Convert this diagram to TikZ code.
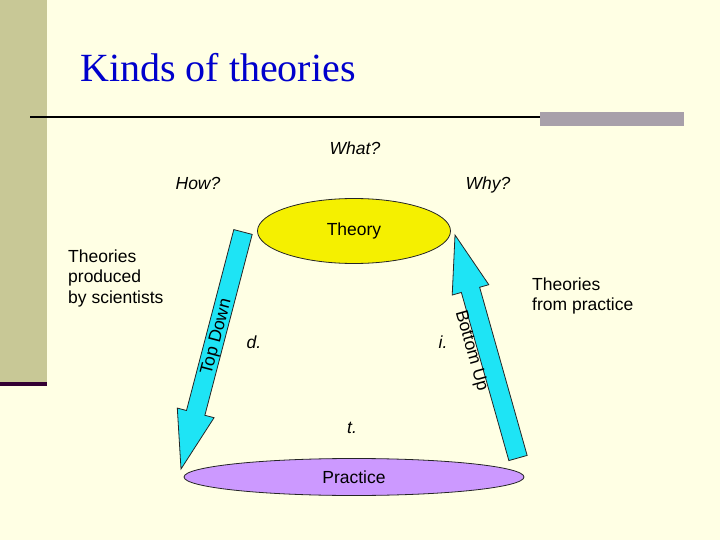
\documentclass[tikz,border=0pt]{standalone}
\usepackage{fontspec}
\setmainfont{Liberation Sans}
\newfontfamily\titlefont{Liberation Serif}
\usetikzlibrary{shapes.geometric}
\definecolor{bg}{RGB}{255,255,228}
\definecolor{side}{RGB}{200,200,150}
\definecolor{sidedark}{RGB}{51,0,51}
\definecolor{titleblue}{RGB}{0,0,204}
\definecolor{bargray}{RGB}{168,160,170}
\definecolor{arrowcyan}{RGB}{30,228,245}
\definecolor{theoryyellow}{RGB}{245,240,0}
\definecolor{practicepurple}{RGB}{204,153,255}
\tikzset{
  lbl/.style={inner sep=0pt, font=\fontsize{17.5}{20.5}\selectfont},
  ilbl/.style={lbl, font=\fontsize{17.5}{20.5}\selectfont\itshape},
  bigarrow/.style={fill=arrowcyan, draw=black!85, line width=0.8pt, line join=miter},
  oval/.style={ellipse, draw=black!85, line width=0.8pt, inner sep=0pt, font=\fontsize{17.5}{20.5}\selectfont}
}
\begin{document}
\begin{tikzpicture}[x=1pt,y=-1pt]
\useasboundingbox (0,0) rectangle (720,540);
\fill[bg] (0,0) rectangle (720,540);
\fill[side] (0,0) rectangle (47,382);
\fill[sidedark] (0,382) rectangle (47,386);
\fill[bargray] (540,112) rectangle (684,126);
\draw[line width=2pt] (30,117) -- (540,117);

\node[anchor=base west, inner sep=0pt, text=titleblue, font=\titlefont\fontsize{40}{44}\selectfont] (title) at (80,82) {Kinds of theories};

\node[ilbl, anchor=base] (what) at (355,155) {What?};
\node[ilbl, anchor=base] (how) at (198,190) {How?};
\node[ilbl, anchor=base] (why) at (488,190) {Why?};

\node[oval, fill=theoryyellow, minimum width=193pt, minimum height=65pt] (theory) at (354,231) {Theory};
\node[oval, fill=practicepurple, minimum width=340pt, minimum height=37pt] (practice) at (354,477) {Practice};

% Top Down arrow
\draw[bigarrow] (181,469) -- (214.06,417.70) -- (204.87,415.29) -- (252.19,234.40)
  -- (233.81,229.60) -- (186.49,410.49) -- (177.30,408.08) -- cycle;
% Bottom Up arrow
\draw[bigarrow] (455,235) -- (488.79,284.69) -- (479.64,287.28) -- (527.14,455.42)
  -- (508.86,460.58) -- (461.36,292.44) -- (452.21,295.03) -- cycle;

\node[lbl, rotate=75.3] (topdown) at (217,337) {Top Down};
\node[lbl, rotate=-74.2] (bottomup) at (471,351) {Bottom Up};

\node[ilbl, anchor=base] (d) at (254,348) {d.};
\node[ilbl, anchor=base] (i) at (443,348) {i.};
\node[ilbl, anchor=base] (t) at (352,433) {t.};

\node[lbl, anchor=north west, align=left] (sci) at (68,249.5) {Theories\\produced\\by scientists};
\node[lbl, anchor=north west, align=left] (prac) at (532,277.5) {Theories\\from practice};
\end{tikzpicture}
\end{document}
